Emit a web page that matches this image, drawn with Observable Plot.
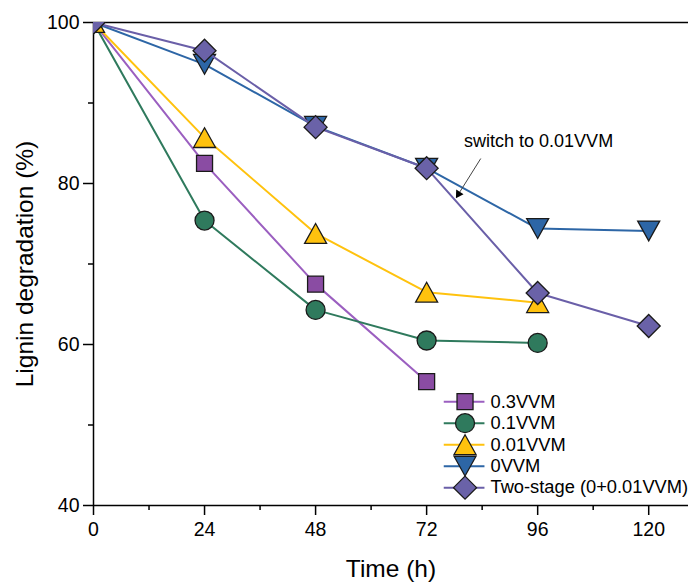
<!DOCTYPE html>
<html>
<head>
<meta charset="utf-8">
<script src="https://cdn.jsdelivr.net/npm/d3@7"></script>
<script src="https://cdn.jsdelivr.net/npm/@observablehq/plot@0.6"></script>
<style>
  html, body { margin: 0; padding: 0; background: #fff; }
  #chart svg { display: block; font-family: "Liberation Sans", Arial, sans-serif; }
</style>
</head>
<body>
<div id="chart"></div>
<script>
// ---- data ----
const seriesNames = ["0.3VVM", "0.1VVM", "0.01VVM", "0VVM", "Two-stage (0+0.01VVM)"];
const times03 = [0, 24, 48, 72];
const values03 = [100, 82.5, 67.5, 55.4];
const times01 = [0, 24, 48, 72, 96];
const values01 = [100, 75.4, 64.3, 60.5, 60.2];
const times001 = [0, 24, 48, 72, 96];
const values001 = [100, 85.7, 73.8, 66.5, 65.2];
const times0 = [0, 24, 48, 72, 96, 120];
const values0 = [100, 94.8, 87.1, 81.9, 74.4, 74.1];
const timesTwo = [0, 24, 48, 72, 96, 120];
const valuesTwo = [100, 96.5, 87.0, 81.9, 66.4, 62.3];
const xTicks = [0, 24, 48, 72, 96, 120];
const xMinorTicks = [12, 36, 60, 84, 108];
const yTicks = [40, 60, 80, 100];
const yMinorTicks = [50, 70, 90];
const xTitle = "Time (h)";
const yTitle = "Lignin degradation (%)";
const annotationText = "switch to 0.01VVM";

// ---- styles ----
const fills = ["#8a4ca3", "#2f7a5d", "#ffc20e", "#2d66a6", "#6a62a8"];
const strokes = ["#9b5fc0", "#2f7a5d", "#ffc20e", "#2d66a6", "#6a5fa8"];

// custom symbols: r = half-width
const sym = (fn) => ({draw(ctx, size) { fn(ctx, Math.sqrt(size / Math.PI)); }});
const square = sym((c, r) => { c.moveTo(-r, -r); c.lineTo(r, -r); c.lineTo(r, r); c.lineTo(-r, r); c.closePath(); });
const circle = sym((c, r) => { c.moveTo(r, 0); c.arc(0, 0, r, 0, 2 * Math.PI); });
const triUp = sym((c, r) => { const h = r * 0.9; c.moveTo(0, -h); c.lineTo(r, h); c.lineTo(-r, h); c.closePath(); });
const triDown = sym((c, r) => { const h = r * 0.9; c.moveTo(0, h); c.lineTo(r, -h); c.lineTo(-r, -h); c.closePath(); });
const diamond = sym((c, r) => { c.moveTo(0, -r); c.lineTo(r, 0); c.lineTo(0, r); c.lineTo(-r, 0); c.closePath(); });
const symbols = [square, circle, triUp, triDown, diamond];
const sizes = [8, 9.5, 11, 11, 11.5];

const allTimes = [times03, times01, times001, times0, timesTwo];
const allValues = [values03, values01, values001, values0, valuesTwo];
const series = seriesNames.map((name, i) => allTimes[i].map((t, j) => ({name, t, v: allValues[i][j]})));

// legend layout (in data units)
const legX0 = 75.7, legX1 = 84.5, legXm = 80.3, legXt = 85.8, legY0 = 52.9, legStep = 2.67;
const legend = seriesNames.map((name, i) => ({name, i, y: legY0 - i * legStep}));

const marks = [];
// axes lines / frame
marks.push(Plot.ruleY([100], {stroke: "#000", strokeWidth: 1.5}));
marks.push(Plot.ruleY([40], {stroke: "#000", strokeWidth: 1.5}));
marks.push(Plot.ruleX([0], {stroke: "#000", strokeWidth: 1.5}));
marks.push(Plot.axisX(xTicks, {tickSize: 10, tickPadding: 7, fontSize: 19.5, strokeWidth: 1.5, label: null}));
marks.push(Plot.axisX(xMinorTicks, {tickSize: 5, strokeWidth: 1.5, text: null, label: null}));
marks.push(Plot.axisY(yTicks, {tickSize: 10, tickPadding: 4, fontSize: 19.5, strokeWidth: 1.5, label: null}));
marks.push(Plot.axisY(yMinorTicks, {tickSize: 5, strokeWidth: 1.5, text: null, label: null}));
marks.push(Plot.text([xTitle], {frameAnchor: "bottom", dy: 64, text: d => d, fontSize: 24.5, fill: "#000", textAnchor: "middle", lineAnchor: "middle"}));
marks.push(Plot.text([yTitle], {frameAnchor: "left", dx: -68, rotate: -90, text: d => d, fontSize: 24.5, fill: "#000", textAnchor: "middle", lineAnchor: "middle"}));

series.forEach((d, i) => {
  marks.push(Plot.line(d, {x: "t", y: "v", stroke: strokes[i], strokeWidth: 2, clip: true}));
  marks.push(Plot.dot(d, {x: "t", y: "v", symbol: symbols[i], r: sizes[i], fill: fills[i], stroke: "#1a1a1a", strokeWidth: 1.3, clip: true}));
});

// annotation
const annot = [{x1: 83.7, y1: 83.1, x2: 78.9, y2: 78.7}];
marks.push(Plot.link(annot, {x1: "x1", y1: "y1", x2: "x2", y2: "y2", stroke: "#444", strokeWidth: 1}));
marks.push(Plot.dot(annot, {x: "x2", y: "y2", symbol: "triangle", r: 3.2, rotate: 212, fill: "#000", stroke: "none"}));
marks.push(Plot.text([annotationText], {x: 96.2, y: 85.3, text: d => d, fontSize: 18, fill: "#000", textAnchor: "middle"}));

// legend
legend.forEach((d) => {
  marks.push(Plot.link([d], {x1: () => legX0, x2: () => legX1, y1: "y", y2: "y", stroke: strokes[d.i], strokeWidth: 2}));
  marks.push(Plot.dot([d], {x: () => legXm, y: "y", symbol: symbols[d.i], r: sizes[d.i], fill: fills[d.i], stroke: "#1a1a1a", strokeWidth: 1.3}));
  marks.push(Plot.text([d], {x: () => legXt, y: "y", text: "name", textAnchor: "start", fontSize: 18.3, fill: "#000"}));
});

const chart = Plot.plot({
  width: 689,
  height: 588,
  marginLeft: 93,
  marginRight: 1,
  marginTop: 22,
  marginBottom: 83,
  style: {fontFamily: "'Liberation Sans', Arial, sans-serif", color: "#000", background: "#fff"},
  x: {domain: [0, 128.6]},
  y: {domain: [40, 100]},
  marks
});
document.getElementById("chart").appendChild(chart);
</script>
</body>
</html>
